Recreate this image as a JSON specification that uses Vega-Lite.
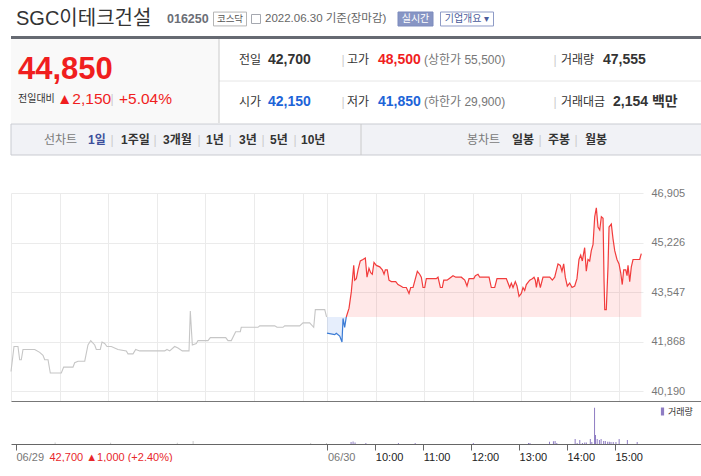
{
  "$schema": "https://vega.github.io/schema/vega-lite/v6.json",
  "description": "SGC이테크건설 (016250) intraday price line with previous day, and volume bars, 2022.06.30.",
  "padding": {"left": 8, "top": 0, "right": 0, "bottom": 0},
  "bounds": "flush",
  "spacing": 0,
  "config": {
    "view": {"stroke": null},
    "font": "Liberation Sans, Noto Sans CJK KR",
    "text": {"align": "left", "baseline": "middle"},
    "axis": {"labelFont": "Liberation Sans, Noto Sans CJK KR"},
    "legend": {"labelFont": "Liberation Sans, Noto Sans CJK KR"}
  },
  "datasets": {
    "hdr": [
      {"txt": "SGC이테크건설", "k": "name", "c": 1, "r": 1},
      {"txt": "016250", "k": "code", "c": 11, "r": 1},
      {"txt": "코스닥", "k": "badge", "c": 15, "r": 1},
      {"txt": "2022.06.30 기준(장마감)", "k": "date", "c": 19, "r": 1},
      {"txt": "실시간", "k": "live", "c": 28, "r": 1},
      {"txt": "기업개요 ▾", "k": "corp", "c": 30, "r": 1},
      {"txt": "44,850", "k": "price", "c": 2, "r": 5},
      {"txt": "전일대비", "k": "sub", "c": 2, "r": 7},
      {"txt": "▲2,150", "k": "chg", "c": 4, "r": 7},
      {"txt": "|", "k": "sep", "c": 6, "r": 7},
      {"txt": "+5.04%", "k": "chg", "c": 7, "r": 7},
      {"txt": "전일", "k": "lbl", "c": 16, "r": 4},
      {"txt": "42,700", "k": "val", "c": 20, "r": 4},
      {"txt": "|", "k": "sep", "c": 24, "r": 4},
      {"txt": "고가", "k": "lbl", "c": 25, "r": 4},
      {"txt": "48,500", "k": "up", "c": 27, "r": 4},
      {"txt": "(상한가 55,500)", "k": "lim", "c": 29, "r": 4},
      {"txt": "|", "k": "sep", "c": 34, "r": 4},
      {"txt": "거래량", "k": "lbl", "c": 35, "r": 4},
      {"txt": "47,555", "k": "val", "c": 38, "r": 4},
      {"txt": "시가", "k": "lbl", "c": 16, "r": 8},
      {"txt": "42,150", "k": "dn", "c": 20, "r": 8},
      {"txt": "|", "k": "sep", "c": 24, "r": 8},
      {"txt": "저가", "k": "lbl", "c": 25, "r": 8},
      {"txt": "41,850", "k": "dn", "c": 27, "r": 8},
      {"txt": "(하한가 29,900)", "k": "lim", "c": 29, "r": 8},
      {"txt": "|", "k": "sep", "c": 34, "r": 8},
      {"txt": "거래대금", "k": "lbl", "c": 35, "r": 8},
      {"txt": "2,154 백만", "k": "val", "c": 39, "r": 8},
      {"txt": "선차트", "k": "tabL", "c": 3, "r": 11},
      {"txt": "1일", "k": "tabOn", "c": 5, "r": 11},
      {"txt": "|", "k": "sep", "c": 6, "r": 11},
      {"txt": "1주일", "k": "tab", "c": 8, "r": 11},
      {"txt": "|", "k": "sep", "c": 9, "r": 11},
      {"txt": "3개월", "k": "tab", "c": 10, "r": 11},
      {"txt": "|", "k": "sep", "c": 12, "r": 11},
      {"txt": "1년", "k": "tab", "c": 13, "r": 11},
      {"txt": "|", "k": "sep", "c": 15, "r": 11},
      {"txt": "3년", "k": "tab", "c": 16, "r": 11},
      {"txt": "|", "k": "sep", "c": 18, "r": 11},
      {"txt": "5년", "k": "tab", "c": 21, "r": 11},
      {"txt": "|", "k": "sep", "c": 22, "r": 11},
      {"txt": "10년", "k": "tab", "c": 23, "r": 11},
      {"txt": "봉차트", "k": "tabL", "c": 30, "r": 11},
      {"txt": "일봉", "k": "tab", "c": 31, "r": 11},
      {"txt": "|", "k": "sep", "c": 32, "r": 11},
      {"txt": "주봉", "k": "tab", "c": 33, "r": 11},
      {"txt": "|", "k": "sep", "c": 36, "r": 11},
      {"txt": "월봉", "k": "tab", "c": 37, "r": 11}
    ],
    "shapes": [
      {"k": "thick", "c": 0, "c2": 40, "r": 2, "r2": 3},
      {"k": "infoL", "c": 0, "c2": 14, "r": 3, "r2": 9},
      {"k": "tabbar", "c": 0, "c2": 40, "r": 10, "r2": 12},
      {"k": "hline", "c": 14, "c2": 40, "r": 6, "r2": 6},
      {"k": "vline", "c": 14, "c2": 14, "r": 3, "r2": 9},
      {"k": "vline", "c": 26, "c2": 26, "r": 10, "r2": 12}
    ],
    "badges": [
      {"k": "badge", "c": 15, "r": 1},
      {"k": "icon", "c": 17, "r": 1},
      {"k": "live", "c": 28, "r": 1},
      {"k": "corp", "c": 30, "r": 1}
    ],
    "price": [
      {"s": "prev", "t": 0, "p": 40850}, {"s": "prev", "t": 3.7, "p": 41700}, {"s": "prev", "t": 8.6, "p": 41700},
      {"s": "prev", "t": 10.7, "p": 41250}, {"s": "prev", "t": 12.7, "p": 41250}, {"s": "prev", "t": 14.8, "p": 41600},
      {"s": "prev", "t": 29.3, "p": 41600}, {"s": "prev", "t": 35.4, "p": 41500}, {"s": "prev", "t": 39.5, "p": 41400},
      {"s": "prev", "t": 41.6, "p": 41250}, {"s": "prev", "t": 45.7, "p": 41250}, {"s": "prev", "t": 48.5, "p": 40800},
      {"s": "prev", "t": 62.1, "p": 40800}, {"s": "prev", "t": 65, "p": 41000}, {"s": "prev", "t": 76.5, "p": 41000},
      {"s": "prev", "t": 78.6, "p": 41150}, {"s": "prev", "t": 82.7, "p": 41200}, {"s": "prev", "t": 91, "p": 41200},
      {"s": "prev", "t": 95, "p": 41750}, {"s": "prev", "t": 98.4, "p": 41900}, {"s": "prev", "t": 103.3, "p": 41750},
      {"s": "prev", "t": 105.3, "p": 41600}, {"s": "prev", "t": 110.2, "p": 41600}, {"s": "prev", "t": 112.3, "p": 41850},
      {"s": "prev", "t": 115.6, "p": 41800}, {"s": "prev", "t": 118.5, "p": 41700}, {"s": "prev", "t": 123.8, "p": 41700},
      {"s": "prev", "t": 132, "p": 41600}, {"s": "prev", "t": 142.3, "p": 41550}, {"s": "prev", "t": 144.4, "p": 41450},
      {"s": "prev", "t": 150.6, "p": 41450}, {"s": "prev", "t": 153.9, "p": 41600}, {"s": "prev", "t": 158.8, "p": 41550},
      {"s": "prev", "t": 189.7, "p": 41550}, {"s": "prev", "t": 192.5, "p": 41600}, {"s": "prev", "t": 195.9, "p": 41550},
      {"s": "prev", "t": 202, "p": 41700}, {"s": "prev", "t": 206.1, "p": 41650}, {"s": "prev", "t": 211.4, "p": 41550},
      {"s": "prev", "t": 219.7, "p": 41550}, {"s": "prev", "t": 221.3, "p": 42900}, {"s": "prev", "t": 223.8, "p": 41750},
      {"s": "prev", "t": 228.7, "p": 41800}, {"s": "prev", "t": 230.8, "p": 41900}, {"s": "prev", "t": 243.1, "p": 41900},
      {"s": "prev", "t": 246, "p": 42000}, {"s": "prev", "t": 265, "p": 42000}, {"s": "prev", "t": 267.8, "p": 41900},
      {"s": "prev", "t": 271.9, "p": 41900}, {"s": "prev", "t": 277.3, "p": 42200}, {"s": "prev", "t": 283, "p": 42200},
      {"s": "prev", "t": 284.2, "p": 42350}, {"s": "prev", "t": 304.8, "p": 42350}, {"s": "prev", "t": 307, "p": 42400},
      {"s": "prev", "t": 325.5, "p": 42400}, {"s": "prev", "t": 328.3, "p": 42350}, {"s": "prev", "t": 335.7, "p": 42350},
      {"s": "prev", "t": 337.8, "p": 42400}, {"s": "prev", "t": 356.3, "p": 42400}, {"s": "prev", "t": 360.4, "p": 42500},
      {"s": "prev", "t": 368.6, "p": 42500}, {"s": "prev", "t": 373.6, "p": 42350}, {"s": "prev", "t": 375.6, "p": 42950},
      {"s": "prev", "t": 378.9, "p": 42950}, {"s": "prev", "t": 387.2, "p": 42950}, {"s": "prev", "t": 389.5, "p": 42700},
      {"s": "down", "t": 390, "p": 42150}, {"s": "down", "t": 399.5, "p": 42100}, {"s": "down", "t": 401.5, "p": 42150},
      {"s": "down", "t": 405.7, "p": 42050}, {"s": "down", "t": 408.5, "p": 41850}, {"s": "down", "t": 409.8, "p": 42650},
      {"s": "down", "t": 411.8, "p": 42350}, {"s": "down", "t": 413.8, "p": 42700},
      {"s": "up", "t": 413.8, "p": 42700}, {"s": "up", "t": 417.2, "p": 43000}, {"s": "up", "t": 420, "p": 43550},
      {"s": "up", "t": 423, "p": 44450}, {"s": "up", "t": 424.2, "p": 43950}, {"s": "up", "t": 426.2, "p": 44000},
      {"s": "up", "t": 428.3, "p": 44300}, {"s": "up", "t": 431.1, "p": 44600}, {"s": "up", "t": 434.4, "p": 44650},
      {"s": "up", "t": 437.3, "p": 44700}, {"s": "up", "t": 439.4, "p": 44050}, {"s": "up", "t": 441.8, "p": 44350},
      {"s": "up", "t": 443.9, "p": 44200}, {"s": "up", "t": 445.9, "p": 44150}, {"s": "up", "t": 448, "p": 44550},
      {"s": "up", "t": 450.9, "p": 44450}, {"s": "up", "t": 455.1, "p": 44400}, {"s": "up", "t": 458.3, "p": 44300},
      {"s": "up", "t": 460.4, "p": 44150}, {"s": "up", "t": 462, "p": 44300}, {"s": "up", "t": 464.4, "p": 44300},
      {"s": "up", "t": 466.5, "p": 43950}, {"s": "up", "t": 469.4, "p": 43900}, {"s": "up", "t": 474.8, "p": 43900},
      {"s": "up", "t": 477.6, "p": 43800}, {"s": "up", "t": 481, "p": 43750}, {"s": "up", "t": 483.8, "p": 43700},
      {"s": "up", "t": 485.9, "p": 43700}, {"s": "up", "t": 487.9, "p": 43700}, {"s": "up", "t": 491.2, "p": 43500},
      {"s": "up", "t": 493.3, "p": 43700}, {"s": "up", "t": 496.2, "p": 43700}, {"s": "up", "t": 498.6, "p": 43950},
      {"s": "up", "t": 501.5, "p": 44250}, {"s": "up", "t": 504.4, "p": 44150}, {"s": "up", "t": 506.4, "p": 44050},
      {"s": "up", "t": 508.5, "p": 43700}, {"s": "up", "t": 510.6, "p": 43700}, {"s": "up", "t": 512.6, "p": 44000},
      {"s": "up", "t": 524.9, "p": 44000}, {"s": "up", "t": 527, "p": 44050}, {"s": "up", "t": 529.9, "p": 43700},
      {"s": "up", "t": 532.3, "p": 43700}, {"s": "up", "t": 534.1, "p": 43950}, {"s": "up", "t": 538.1, "p": 43950},
      {"s": "up", "t": 540.6, "p": 44000}, {"s": "up", "t": 545.5, "p": 44100}, {"s": "up", "t": 548.9, "p": 44050},
      {"s": "up", "t": 555.8, "p": 44050}, {"s": "up", "t": 560, "p": 43950}, {"s": "up", "t": 562.8, "p": 43750},
      {"s": "up", "t": 565.3, "p": 44000}, {"s": "up", "t": 571.1, "p": 44000}, {"s": "up", "t": 573.1, "p": 44100},
      {"s": "up", "t": 576.4, "p": 44150}, {"s": "up", "t": 578.5, "p": 44050}, {"s": "up", "t": 582.5, "p": 44050},
      {"s": "up", "t": 590, "p": 44050}, {"s": "up", "t": 592.8, "p": 43700}, {"s": "up", "t": 597, "p": 43700},
      {"s": "up", "t": 599.8, "p": 44000}, {"s": "up", "t": 611.3, "p": 44000}, {"s": "up", "t": 613.4, "p": 43850},
      {"s": "up", "t": 615.5, "p": 43700}, {"s": "up", "t": 617.5, "p": 43850}, {"s": "up", "t": 619.6, "p": 43700},
      {"s": "up", "t": 622.4, "p": 43900}, {"s": "up", "t": 624.5, "p": 43750}, {"s": "up", "t": 627, "p": 43400},
      {"s": "up", "t": 629.8, "p": 43500}, {"s": "up", "t": 631.9, "p": 43700}, {"s": "up", "t": 634, "p": 43600},
      {"s": "up", "t": 636, "p": 43800}, {"s": "up", "t": 640.2, "p": 43950}, {"s": "up", "t": 643.4, "p": 44000},
      {"s": "up", "t": 645.5, "p": 44050}, {"s": "up", "t": 647.1, "p": 43950}, {"s": "up", "t": 648.4, "p": 43700},
      {"s": "up", "t": 650.5, "p": 44050}, {"s": "up", "t": 653.3, "p": 43700}, {"s": "up", "t": 656.6, "p": 44050},
      {"s": "up", "t": 664.9, "p": 44050}, {"s": "up", "t": 668.1, "p": 43950}, {"s": "up", "t": 671, "p": 44050},
      {"s": "up", "t": 675.1, "p": 44500}, {"s": "up", "t": 677.9, "p": 44450}, {"s": "up", "t": 680, "p": 44250},
      {"s": "up", "t": 682.1, "p": 44500}, {"s": "up", "t": 684.1, "p": 44050}, {"s": "up", "t": 686.6, "p": 43750},
      {"s": "up", "t": 689.5, "p": 43850}, {"s": "up", "t": 692.4, "p": 43700}, {"s": "up", "t": 695.7, "p": 43750},
      {"s": "up", "t": 698.5, "p": 44000}, {"s": "up", "t": 701, "p": 44650}, {"s": "up", "t": 703.1, "p": 44800},
      {"s": "up", "t": 705.1, "p": 44600}, {"s": "up", "t": 708, "p": 45050}, {"s": "up", "t": 710, "p": 44250},
      {"s": "up", "t": 712.1, "p": 44650}, {"s": "up", "t": 714.2, "p": 44600}, {"s": "up", "t": 716.2, "p": 44950},
      {"s": "up", "t": 718.3, "p": 45150}, {"s": "up", "t": 720.4, "p": 46100}, {"s": "up", "t": 722.4, "p": 46400},
      {"s": "up", "t": 724.5, "p": 45750}, {"s": "up", "t": 726.6, "p": 45650}, {"s": "up", "t": 728.6, "p": 46100},
      {"s": "up", "t": 730.7, "p": 46050}, {"s": "up", "t": 731.9, "p": 43950}, {"s": "up", "t": 732.8, "p": 42950},
      {"s": "up", "t": 734.7, "p": 42950}, {"s": "up", "t": 736.8, "p": 44400}, {"s": "up", "t": 738.1, "p": 45750},
      {"s": "up", "t": 740.9, "p": 45850}, {"s": "up", "t": 743, "p": 45350}, {"s": "up", "t": 745.1, "p": 44950},
      {"s": "up", "t": 747.9, "p": 44650}, {"s": "up", "t": 750.4, "p": 44500}, {"s": "up", "t": 752.5, "p": 44200},
      {"s": "up", "t": 754.4, "p": 43800}, {"s": "up", "t": 756.2, "p": 44300}, {"s": "up", "t": 758.7, "p": 44300},
      {"s": "up", "t": 760.3, "p": 44100}, {"s": "up", "t": 761.5, "p": 44450}, {"s": "up", "t": 763.6, "p": 43900},
      {"s": "up", "t": 765.6, "p": 44400}, {"s": "up", "t": 767.7, "p": 44650}, {"s": "up", "t": 775.9, "p": 44650},
      {"s": "up", "t": 777.9, "p": 44850}
    ],
    "vol": [
      {"day": "06/29", "t": 49, "v": 210}, {"day": "06/29", "t": 118.5, "v": 180}, {"day": "06/29", "t": 202, "v": 180},
      {"day": "06/29", "t": 221.8, "v": 420}, {"day": "06/29", "t": 369, "v": 150}, {"day": "06/29", "t": 388.8, "v": 150},
      {"day": "06/30", "t": 419.6, "v": 280}, {"day": "06/30", "t": 422.1, "v": 350}, {"day": "06/30", "t": 424.6, "v": 210},
      {"day": "06/30", "t": 438.1, "v": 140}, {"day": "06/30", "t": 478.9, "v": 140}, {"day": "06/30", "t": 499.9, "v": 140},
      {"day": "06/30", "t": 572.7, "v": 140}, {"day": "06/30", "t": 641.8, "v": 140}, {"day": "06/30", "t": 643.6, "v": 140},
      {"day": "06/30", "t": 668.1, "v": 320}, {"day": "06/30", "t": 673, "v": 380}, {"day": "06/30", "t": 675.1, "v": 420},
      {"day": "06/30", "t": 677.2, "v": 140}, {"day": "06/30", "t": 700.2, "v": 700}, {"day": "06/30", "t": 702.7, "v": 140},
      {"day": "06/30", "t": 706, "v": 560}, {"day": "06/30", "t": 709.3, "v": 140}, {"day": "06/30", "t": 712.2, "v": 210},
      {"day": "06/30", "t": 714.2, "v": 210}, {"day": "06/30", "t": 719.2, "v": 700}, {"day": "06/30", "t": 721.1, "v": 280},
      {"day": "06/30", "t": 724.5, "v": 5060}, {"day": "06/30", "t": 725.7, "v": 1260}, {"day": "06/30", "t": 727.8, "v": 700},
      {"day": "06/30", "t": 730.6, "v": 560}, {"day": "06/30", "t": 732.7, "v": 700}, {"day": "06/30", "t": 735.9, "v": 420},
      {"day": "06/30", "t": 738, "v": 420}, {"day": "06/30", "t": 740.9, "v": 320}, {"day": "06/30", "t": 743, "v": 320},
      {"day": "06/30", "t": 745.1, "v": 280}, {"day": "06/30", "t": 747.9, "v": 280}, {"day": "06/30", "t": 751.3, "v": 280},
      {"day": "06/30", "t": 755.3, "v": 700}, {"day": "06/30", "t": 765.6, "v": 560}, {"day": "06/30", "t": 777.9, "v": 280}
    ]
  },
  "vconcat": [
    {
      "width": 693,
      "height": 193,
      "encoding": {
        "x": {
          "field": "c", "type": "quantitative", "axis": null,
          "scale": {
            "nice": false, "zero": false,
            "domain": [0,1,2,3,4,5,6,7,8,9,10,11,12,13,14,15,16,17,18,19,20,21,22,23,24,25,26,27,28,29,30,31,32,33,34,35,36,37,38,39,40],
            "range": [0,5,7,33,46,77,101,108,110,144,152,156,188,195,208,219,228,245,252,254,257,259,284,290,332,336,350,367,404.5,413,456,501,529,537,544,550,565,574,592,602,693]
          }
        },
        "y": {
          "field": "r", "type": "quantitative", "axis": null,
          "scale": {
            "nice": false, "zero": false,
            "domain": [0,1,2,3,4,5,6,7,8,9,10,11,12,13],
            "range": [0,19,36,39,60,70,81,99,102,123,124,140,155,193]
          }
        }
      },
      "layer": [
        {"data": {"name": "shapes"}, "transform": [{"filter": "datum.k == 'thick'"}],
         "mark": {"type": "rect", "fill": "#666a72"}, "encoding": {"x2": {"field": "c2"}, "y2": {"field": "r2"}}},
        {"data": {"name": "shapes"}, "transform": [{"filter": "datum.k == 'infoL'"}],
         "mark": {"type": "rect", "fill": "#f9f9f9"}, "encoding": {"x2": {"field": "c2"}, "y2": {"field": "r2"}}},
        {"data": {"name": "shapes"}, "transform": [{"filter": "datum.k == 'tabbar'"}],
         "mark": {"type": "rect", "fill": "#f1f2f6", "stroke": "#c9cbd1", "strokeWidth": 1}, "encoding": {"x2": {"field": "c2"}, "y2": {"field": "r2"}}},
        {"data": {"name": "shapes"}, "transform": [{"filter": "datum.k == 'hline'"}],
         "mark": {"type": "rule", "color": "#e6e6e6"}, "encoding": {"x2": {"field": "c2"}, "y2": {"field": "r2"}}},
        {"data": {"name": "shapes"}, "transform": [{"filter": "datum.k == 'vline'"}],
         "mark": {"type": "rule", "color": "#cacaca"}, "encoding": {"x2": {"field": "c2"}, "y2": {"field": "r2"}}},
        {"data": {"name": "badges"}, "transform": [{"filter": "datum.k == 'badge'"}],
         "mark": {"type": "point", "shape": "M-1,-0.42H1V0.42H-1Z", "size": 1089, "filled": true, "fill": "#ffffff", "stroke": "#b5b5b5", "strokeWidth": 1, "opacity": 1}},
        {"data": {"name": "badges"}, "transform": [{"filter": "datum.k == 'icon'"}],
         "mark": {"type": "point", "shape": "square", "size": 81, "filled": false, "stroke": "#a5a8b0", "strokeWidth": 1, "opacity": 1}},
        {"data": {"name": "badges"}, "transform": [{"filter": "datum.k == 'live'"}],
         "mark": {"type": "point", "shape": "M-1,-0.4H1V0.4H-1Z", "size": 1225, "filled": true, "fill": "#8795c4", "stroke": "#7c8bbd", "strokeWidth": 1, "opacity": 1}},
        {"data": {"name": "badges"}, "transform": [{"filter": "datum.k == 'corp'"}],
         "mark": {"type": "point", "shape": "M-1,-0.264H1V0.264H-1Z", "size": 2809, "filled": true, "fill": "#ffffff", "stroke": "#8e9bc6", "strokeWidth": 1, "opacity": 1}},
        {"data": {"name": "hdr"}, "transform": [{"filter": "datum.k == 'name'"}],
         "mark": {"type": "text", "fontSize": 20, "color": "#333333"}, "encoding": {"text": {"field": "txt"}}},
        {"data": {"name": "hdr"}, "transform": [{"filter": "datum.k == 'code'"}],
         "mark": {"type": "text", "fontSize": 12.5, "fontWeight": "bold", "color": "#6b6e76"}, "encoding": {"text": {"field": "txt"}}},
        {"data": {"name": "hdr"}, "transform": [{"filter": "datum.k == 'badge'"}],
         "mark": {"type": "text", "fontSize": 9.5, "color": "#555555", "align": "center"}, "encoding": {"text": {"field": "txt"}}},
        {"data": {"name": "hdr"}, "transform": [{"filter": "datum.k == 'date'"}],
         "mark": {"type": "text", "fontSize": 11.5, "color": "#666666"}, "encoding": {"text": {"field": "txt"}}},
        {"data": {"name": "hdr"}, "transform": [{"filter": "datum.k == 'live'"}],
         "mark": {"type": "text", "fontSize": 10, "color": "#ffffff", "align": "center"}, "encoding": {"text": {"field": "txt"}}},
        {"data": {"name": "hdr"}, "transform": [{"filter": "datum.k == 'corp'"}],
         "mark": {"type": "text", "fontSize": 10, "color": "#4b5c9c", "align": "center"}, "encoding": {"text": {"field": "txt"}}},
        {"data": {"name": "hdr"}, "transform": [{"filter": "datum.k == 'price'"}],
         "mark": {"type": "text", "fontSize": 31, "fontWeight": "bold", "color": "#f01e1e"}, "encoding": {"text": {"field": "txt"}}},
        {"data": {"name": "hdr"}, "transform": [{"filter": "datum.k == 'sub'"}],
         "mark": {"type": "text", "fontSize": 10, "color": "#333333"}, "encoding": {"text": {"field": "txt"}}},
        {"data": {"name": "hdr"}, "transform": [{"filter": "datum.k == 'chg'"}],
         "mark": {"type": "text", "fontSize": 15.5, "color": "#f01e1e"}, "encoding": {"text": {"field": "txt"}}},
        {"data": {"name": "hdr"}, "transform": [{"filter": "datum.k == 'sep'"}],
         "mark": {"type": "text", "fontSize": 12, "color": "#cccccc", "align": "center"}, "encoding": {"text": {"field": "txt"}}},
        {"data": {"name": "hdr"}, "transform": [{"filter": "datum.k == 'lbl'"}],
         "mark": {"type": "text", "fontSize": 12, "color": "#333333"}, "encoding": {"text": {"field": "txt"}}},
        {"data": {"name": "hdr"}, "transform": [{"filter": "datum.k == 'val'"}],
         "mark": {"type": "text", "fontSize": 14, "fontWeight": "bold", "color": "#333333"}, "encoding": {"text": {"field": "txt"}}},
        {"data": {"name": "hdr"}, "transform": [{"filter": "datum.k == 'up'"}],
         "mark": {"type": "text", "fontSize": 14, "fontWeight": "bold", "color": "#f01e1e"}, "encoding": {"text": {"field": "txt"}}},
        {"data": {"name": "hdr"}, "transform": [{"filter": "datum.k == 'dn'"}],
         "mark": {"type": "text", "fontSize": 14, "fontWeight": "bold", "color": "#1c64d8"}, "encoding": {"text": {"field": "txt"}}},
        {"data": {"name": "hdr"}, "transform": [{"filter": "datum.k == 'lim'"}],
         "mark": {"type": "text", "fontSize": 12, "color": "#777777"}, "encoding": {"text": {"field": "txt"}}},
        {"data": {"name": "hdr"}, "transform": [{"filter": "datum.k == 'tabL'"}],
         "mark": {"type": "text", "fontSize": 12, "color": "#7a7a7a"}, "encoding": {"text": {"field": "txt"}}},
        {"data": {"name": "hdr"}, "transform": [{"filter": "datum.k == 'tabOn'"}],
         "mark": {"type": "text", "fontSize": 12, "fontWeight": "bold", "color": "#3d4f9c"}, "encoding": {"text": {"field": "txt"}}},
        {"data": {"name": "hdr"}, "transform": [{"filter": "datum.k == 'tab'"}],
         "mark": {"type": "text", "fontSize": 12, "fontWeight": "bold", "color": "#333333"}, "encoding": {"text": {"field": "txt"}}}
      ]
    },
    {
      "width": 632,
      "height": 208,
      "encoding": {
        "x": {
          "field": "t", "type": "quantitative",
          "scale": {"domain": [0, 780], "nice": false, "zero": false},
          "axis": {"values": [0, 60, 120, 180, 240, 300, 360, 390, 450, 510, 570, 630, 690, 750], "grid": true, "gridColor": "#ebebeb", "labels": false, "ticks": false, "domain": false, "title": null}
        },
        "y": {
          "field": "p", "type": "quantitative",
          "scale": {"domain": [39851, 46905], "nice": false, "zero": false},
          "axis": {"orient": "right", "values": [40190, 41868, 43547, 45226, 46905], "format": ",d", "grid": true, "gridColor": "#ebebeb", "ticks": false, "domain": false, "labelColor": "#777777", "labelFontSize": 11, "labelPadding": 8, "title": null}
        }
      },
      "layer": [
        {"data": {"name": "price"}, "transform": [{"filter": "datum.s == 'down'"}],
         "mark": {"type": "area", "color": "#1f66e0", "opacity": 0.11}, "encoding": {"y2": {"datum": 42700}}},
        {"data": {"name": "price"}, "transform": [{"filter": "datum.s == 'up'"}],
         "mark": {"type": "area", "color": "#ff1a1a", "opacity": 0.1}, "encoding": {"y2": {"datum": 42700}}},
        {"data": {"values": [{}]},
         "mark": {"type": "rule", "color": "#666666", "strokeDash": [1, 2], "strokeWidth": 1},
         "encoding": {"x": {"datum": 390}, "x2": {"datum": 780}, "y": {"datum": 42700}}},
        {"data": {"name": "price"}, "transform": [{"filter": "datum.s == 'prev'"}],
         "mark": {"type": "line", "color": "#c6c6c6", "strokeWidth": 1.1}},
        {"data": {"name": "price"}, "transform": [{"filter": "datum.s == 'down'"}],
         "mark": {"type": "line", "color": "#3a7bd5", "strokeWidth": 1.2}},
        {"data": {"name": "price"}, "transform": [{"filter": "datum.s == 'up'"}],
         "mark": {"type": "line", "color": "#f23c3c", "strokeWidth": 1.2}}
      ]
    },
    {
      "width": 693,
      "height": 43,
      "data": {"name": "vol"},
      "encoding": {
        "y": {"field": "v", "type": "quantitative", "scale": {"domain": [0, 6000], "nice": false}, "axis": null}
      },
      "layer": [
        {
          "mark": {"type": "bar", "width": 1},
          "encoding": {
            "x": {
              "field": "t", "type": "quantitative",
              "scale": {"domain": [0, 855.3], "nice": false, "zero": false},
              "axis": {
                "orient": "bottom", "values": [0, 390, 450, 510, 570, 630, 690, 750],
                "labelExpr": "datum.value == 0 ? '06/29' : datum.value == 390 ? '06/30' : (datum.value - 390) / 60 + 9 + ':00'",
                "labelColor": {"condition": {"test": "datum.value == 0 || datum.value == 390", "value": "#777777"}, "value": "#222222"},
                "labelAlign": "left", "labelBaseline": "top", "labelFontSize": 11, "labelPadding": 1,
                "labelOverlap": false, "labelFlush": false, "labelBound": false,
                "tickSize": 6, "tickColor": "#666666", "domainColor": "#666666", "grid": false, "title": null
              }
            },
            "color": {
              "field": "day", "type": "nominal",
              "scale": {"domain": ["06/29", "06/30"], "range": ["#c9c9c9", "#8e7cc3"]},
              "legend": {
                "orient": "none", "legendX": 647, "legendY": 407, "direction": "vertical",
                "values": ["06/30"], "labelExpr": "'거래량'", "title": null,
                "symbolType": "M-0.4,-1H0.4V1H-0.4Z", "symbolSize": 64, "symbolStrokeWidth": 0,
                "labelFontSize": 9, "labelColor": "#333333", "labelOffset": 1, "padding": 0
              }
            }
          }
        },
        {
          "mark": {"type": "bar", "width": 1, "opacity": 0},
          "encoding": {
            "x": {
              "field": "t", "type": "quantitative",
              "axis": {
                "orient": "bottom", "values": [0], "labelExpr": "'42,700 ▲1,000 (+2.40%)'",
                "labelColor": "#e8272b", "labelAlign": "left", "labelBaseline": "top", "labelFontSize": 11,
                "labelPadding": 7, "labelOffset": 33, "labelOverlap": false, "labelFlush": false, "labelBound": false,
                "ticks": false, "domain": false, "grid": false, "title": null
              }
            }
          }
        },
        {
          "mark": {"type": "bar", "width": 1, "opacity": 0},
          "encoding": {
            "x": {
              "field": "t", "type": "quantitative",
              "axis": {"orient": "top", "labels": false, "ticks": false, "domain": true, "domainColor": "#777777", "grid": false, "title": null}
            }
          }
        }
      ],
      "resolve": {"axis": {"x": "independent"}}
    }
  ]
}
